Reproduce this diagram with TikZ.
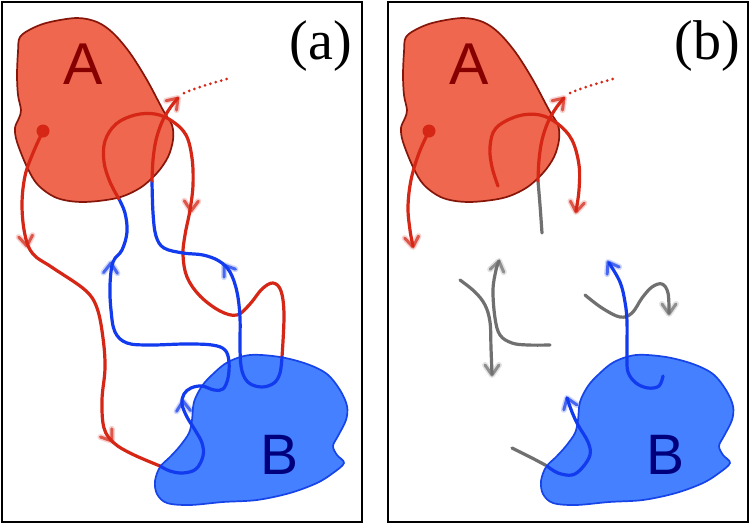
\documentclass[tikz,border=0pt]{standalone}
\usepackage{fontspec}
\setmainfont{Liberation Serif}
\newfontfamily\labsans{Liberation Sans}
\definecolor{redl}{RGB}{214,38,22}
\definecolor{afill}{RGB}{239,103,78}
\definecolor{aline}{RGB}{135,22,10}
\definecolor{atext}{RGB}{135,0,0}
\definecolor{bluel}{RGB}{18,58,238}
\definecolor{bfill}{RGB}{68,128,255}
\definecolor{bline}{RGB}{22,68,232}
\definecolor{btext}{RGB}{0,0,125}
\definecolor{grayl}{RGB}{112,112,112}
\newcommand\chev[4]{%
  \draw[#4, line width=6pt, opacity=0.2, line cap=round, line join=round, shift={(#1,#2)}, rotate=#3] (-7,10) -- (0,0) -- (7,10);
  \draw[#4, chevst, shift={(#1,#2)}, rotate=#3] (-7,10) -- (0,0) -- (7,10);}
\newcommand\blobApath{plot[smooth cycle, tension=0.55] coordinates {(20,37) (33,28) (50,22) (77,18) (97,22) (113,33) (130,53) (147,80) (163,110) (172,125) (173,140) (168,157) (157,173) (140,188) (117,198) (83,202) (57,198) (38,185) (27,167) (17,142) (15,128) (19,118) (21,110) (18,95) (17,75) (18,52)}}
\newcommand\blobBpath{plot[smooth cycle, tension=0.55] coordinates {(160,467) (155,481) (157,494) (167,503) (190,505) (223,502) (257,500) (290,493) (317,483) (333,473) (344,463) (337,455) (333,446) (338,436) (346,420) (347,406) (340,390) (327,374) (307,364) (280,357) (250,355) (228,362) (213,374) (202,386) (194,402) (192,420) (189,433) (180,446) (170,457)}}
\begin{document}
\begin{tikzpicture}[x=1pt,y=-1pt,
  frame/.style={draw=black,line width=2.6pt},
  rl/.style={draw=redl,line width=3.2pt,line cap=round,line join=round},
  bl/.style={draw=bluel,line width=3.2pt,line cap=round,line join=round},
  gl/.style={draw=grayl,line width=3.2pt,line cap=round,line join=round},
  rdot/.style={draw=redl,line width=3pt,line cap=round,dash pattern=on 0pt off 5.6pt},
  chevst/.style={line width=3pt,line cap=round,line join=round,opacity=0.72},
  blobA/.style={fill=afill,draw=aline,line width=1.7pt},
  blobB/.style={fill=bfill,draw=bline,line width=1.7pt},
  labA/.style={font=\labsans\fontsize{59}{59}\selectfont,text=atext,inner sep=0pt},
  labB/.style={font=\labsans\fontsize{57}{57}\selectfont,text=btext,inner sep=0pt},
  panlab/.style={font=\fontsize{56}{56}\selectfont,inner sep=0pt}]
\useasboundingbox (0,0) rectangle (750,525);
\fill[white] (0,0) rectangle (750,525);
% frames
\draw[frame] (2,2) rectangle (362,522);
\draw[frame] (388,2) rectangle (748,522);
% ---------- panel (a)
\path[blobA] \blobApath;
\path[blobB] \blobBpath;
\node[labA] (Aa) at (83,64) {A};
\node[labB] (Ba) at (280,455) {B};
\node[panlab] (pa) at (321,46) {(a)};
\fill[redl] (43,131) circle[radius=6.5pt];
\draw[rl] plot[smooth,tension=0.6] coordinates {(43,131) (33,153) (25,176) (22,205) (25,235) (33,254) (53,268) (85,290) (97,308) (103,338) (105,368) (102,400) (104,428) (114,443) (132,454) (160,466)};
\draw[bl] plot[smooth,tension=0.6] coordinates {(160,466) (170,471) (183,473) (196,469) (203,456) (202,443) (195,430) (187,417) (182,404) (184,394) (191,388) (202,386) (214,390) (223,389) (228,378) (229,362) (225,350) (212,345) (185,344) (150,345) (127,343) (115,332) (111,310) (110,285) (113,262) (122,250) (127,232) (125,213) (119,199)};
\draw[rl] plot[smooth,tension=0.6] coordinates {(119,199) (110,182) (104,162) (105,141) (116,124) (135,115) (155,114) (172,121) (186,135) (192,158) (193,185) (190,210) (185,235) (183,255) (187,277) (200,296) (220,311) (237,315) (250,304) (262,289) (273,283) (281,291) (284,315) (282,357)};
\draw[bl] plot[smooth,tension=0.6] coordinates {(282,357) (280,373) (274,383) (262,387) (249,383) (242,371) (240,350) (240,318) (237,292) (230,272) (219,261) (203,255) (183,253) (164,248) (156,236) (153,213) (152,181)};
\draw[rl] plot[smooth,tension=0.6] coordinates {(152,181) (153,160) (156,140) (162,122) (170,108) (178,98)};
\draw[rdot] plot[smooth] coordinates {(184,93) (200,87) (230,78)};
\chev{27}{246}{-172}{redl}
\chev{112}{441}{-144}{redl}
\chev{191}{211}{178}{redl}
\chev{178}{98}{-42}{redl}
\chev{111}{263}{-3}{bluel}
\chev{183}{401}{3}{bluel}
\chev{224}{265}{35}{bluel}
% ---------- panel (b)
\begin{scope}[shift={(386,0)}]
\path[blobA] \blobApath;
\path[blobB] \blobBpath;
\end{scope}
\node[labA] (Ab) at (469,64) {A};
\node[labB] (Bb) at (666,455) {B};
\node[panlab] (pb) at (707,46) {(b)};
\fill[redl] (429,131) circle[radius=6.5pt];
\draw[rl] plot[smooth,tension=0.6] coordinates {(429,131) (419,153) (411,180) (408,207) (410,230) (413,246)};
\draw[rl] plot[smooth,tension=0.6] coordinates {(498,186) (492,167) (490,147) (496,128) (518,116) (540,115) (558,124) (572,140) (579,165) (579,190) (576,211)};
\draw[gl] plot[smooth,tension=0.6] coordinates {(542,233) (540,205) (538,181)};
\draw[rl] plot[smooth,tension=0.6] coordinates {(538,181) (539,160) (542,140) (548,122) (556,108) (564,98)};
\draw[rdot] plot[smooth] coordinates {(570,93) (586,87) (616,78)};
\draw[gl] plot[smooth,tension=0.6] coordinates {(460,280) (475,292) (485,305) (490,322) (491,348) (492,374)};
\draw[gl] plot[smooth,tension=0.6] coordinates {(550,345) (528,345) (512,343) (500,335) (495,318) (493,290) (496,270) (499,261)};
\draw[gl] plot[smooth,tension=0.6] coordinates {(585,295) (602,308) (620,317) (632,313) (642,298) (652,287) (662,284) (668,293) (669,313)};
\draw[bl] plot[smooth,tension=0.6] coordinates {(663,376) (659,386) (648,388) (636,383) (628,372) (627,355) (627,322) (625,302) (620,282) (609,263)};
\draw[gl] plot[smooth,tension=0.6] coordinates {(512,448) (532,458) (547,466)};
\draw[bl] plot[smooth,tension=0.6] coordinates {(547,466) (558,473) (572,475) (582,468) (590,455) (588,442) (578,425) (572,412) (567,398)};
\chev{413}{247}{-172}{redl}
\chev{576}{212}{172}{redl}
\chev{564}{98}{-42}{redl}
\chev{492}{375}{180}{grayl}
\chev{499}{261}{-12}{grayl}
\chev{669}{314}{180}{grayl}
\chev{608}{262}{31}{bluel}
\chev{567}{398}{20}{bluel}
\end{tikzpicture}
\end{document}
